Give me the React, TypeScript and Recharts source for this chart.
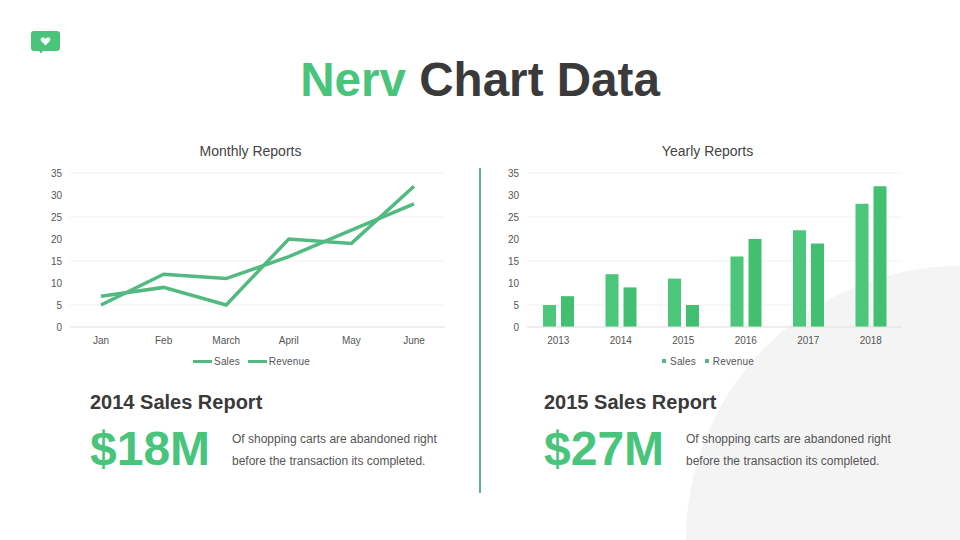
/**
 * Nerv chart data slide: monthly line chart, yearly bar chart, two report blurbs
 */

import React from 'react';
import { LineChart, Line, BarChart, Bar, XAxis, YAxis, CartesianGrid, Legend } from 'recharts';

const months = ['Jan', 'Feb', 'March', 'April', 'May', 'June'];
const monthlySales = [5, 12, 11, 16, 22, 28];
const monthlyRevenue = [7, 9, 5, 20, 19, 32];

const years = ['2013', '2014', '2015', '2016', '2017', '2018'];
const yearlySales = [5, 12, 11, 16, 22, 28];
const yearlyRevenue = [7, 9, 5, 20, 19, 32];

const yTicks = [0, 5, 10, 15, 20, 25, 30, 35];

const monthlyData = months.map((name, i) => ({ name, Sales: monthlySales[i], Revenue: monthlyRevenue[i] }));
const yearlyData = years.map((name, i) => ({ name, Sales: yearlySales[i], Revenue: yearlyRevenue[i] }));

const GREEN = '#48c47b';
const DARK = '#3a3a3a';
const FONT = '"Liberation Sans", Arial, sans-serif';

const tickStyle = { fontSize: 10, fill: '#555', fontFamily: FONT };
const chartMargin = { top: 13, right: 15, left: 40, bottom: 0 };

const LineLegend = ({ payload }: any) => (
  <div style={{ display: 'flex', justifyContent: 'center', height: 20, alignItems: 'center', paddingLeft: 18, fontSize: 10, letterSpacing: 0.15, color: '#555', fontFamily: FONT }}>
    {(payload || []).map((p: any, i: number) => (
      <span key={p.value} style={{ display: 'flex', alignItems: 'center', marginLeft: i ? 8 : 0 }}>
        <span style={{ width: 19, height: 3, background: '#52ba80', marginRight: 2 }} />
        {p.value}
      </span>
    ))}
  </div>
);

const BarLegend = ({ payload }: any) => (
  <div style={{ display: 'flex', justifyContent: 'center', height: 20, alignItems: 'center', paddingLeft: 17, fontSize: 10, letterSpacing: 0.15, color: '#555', fontFamily: FONT }}>
    {(payload || []).map((p: any, i: number) => (
      <span key={p.value} style={{ display: 'flex', alignItems: 'center', marginLeft: i ? 9 : 0 }}>
        <span style={{ width: 4, height: 4, background: '#5cb58a', marginRight: 4 }} />
        {p.value}
      </span>
    ))}
  </div>
);

const yAxis = (
  <YAxis
    domain={[0, 35]}
    ticks={yTicks}
    tick={tickStyle}
    tickLine={false}
    axisLine={false}
    tickMargin={2}
    width={30}
  />
);

const Report = ({ left, title, amount }: { left: number; title: string; amount: string }) => (
  <>
    <div style={{ position: 'absolute', left, top: 391, fontSize: 20, fontWeight: 700, color: DARK, whiteSpace: 'nowrap' }}>
      {title}
    </div>
    <div style={{ position: 'absolute', left, top: 421, fontSize: 48, lineHeight: '56px', fontWeight: 700, color: GREEN, whiteSpace: 'nowrap' }}>
      {amount}
    </div>
    <div style={{ position: 'absolute', left: left + 142, top: 428, fontSize: 12, lineHeight: '22px', color: '#555', whiteSpace: 'nowrap' }}>
      Of shopping carts are abandoned right
      <br />
      before the transaction its completed.
    </div>
  </>
);

export default function App() {
  return (
    <div style={{ position: 'fixed', left: 0, top: 0, width: 960, height: 540, overflow: 'hidden', background: '#fff', fontFamily: FONT }}>
      <div style={{ position: 'absolute', left: 686, top: 266, width: 548, height: 548, borderRadius: '50%', background: '#f4f4f4' }} />

      <svg style={{ position: 'absolute', left: 30, top: 30 }} width={32} height={25}>
        <path d="M4 1h23a3 3 0 0 1 3 3v14a3 3 0 0 1-3 3H13l-2 2.5L9 21H4a3 3 0 0 1-3-3V4a3 3 0 0 1 3-3z" fill={GREEN} />
        <path d="M15.5 15.5l-4.2-4.2a2.4 2.4 0 0 1 0-3.3 2.4 2.4 0 0 1 3.3 0l.9.9.9-.9a2.4 2.4 0 0 1 3.3 0 2.4 2.4 0 0 1 0 3.3z" fill="#fff" />
      </svg>

      <div style={{ position: 'absolute', left: 0, top: 53, width: 960, textAlign: 'center', fontSize: 47.6, lineHeight: '54px', fontWeight: 700, color: DARK }}>
        <span style={{ color: GREEN }}>Nerv</span> Chart Data
      </div>

      <div style={{ position: 'absolute', left: 0, top: 143, width: 501, textAlign: 'center', fontSize: 14, color: '#444' }}>Monthly Reports</div>
      <div style={{ position: 'absolute', left: 457, top: 143, width: 501, textAlign: 'center', fontSize: 14, color: '#444' }}>Yearly Reports</div>

      <div style={{ position: 'absolute', left: 0, top: 160 }}>
        <LineChart width={460} height={211} data={monthlyData} margin={chartMargin}>
          <CartesianGrid vertical={false} stroke="#f1f1f1" />
          <XAxis
            dataKey="name"
            tick={tickStyle}
            tickLine={false}
            axisLine={{ stroke: '#e2e2e2' }}
            tickMargin={4}
            height={24}
            interval={0}
            padding={{ left: 31, right: 31 }}
          />
          {yAxis}
          <Legend content={<LineLegend />} height={20} itemSorter={null} />
          <Line dataKey="Sales" stroke="#52ba80" strokeWidth={3.5} dot={false} isAnimationActive={false} />
          <Line dataKey="Revenue" stroke="#52ba80" strokeWidth={3.5} dot={false} isAnimationActive={false} />
        </LineChart>
      </div>

      <div style={{ position: 'absolute', left: 457, top: 160 }}>
        <BarChart width={460} height={211} data={yearlyData} margin={chartMargin} barSize={13} barGap={5}>
          <CartesianGrid vertical={false} stroke="#f1f1f1" />
          <XAxis
            dataKey="name"
            tick={tickStyle}
            tickLine={false}
            axisLine={{ stroke: '#e2e2e2' }}
            tickMargin={4}
            height={24}
            interval={0}
          />
          {yAxis}
          <Legend content={<BarLegend />} height={20} itemSorter={null} />
          <Bar dataKey="Sales" fill="#4bc67b" isAnimationActive={false} />
          <Bar dataKey="Revenue" fill="#42bf70" isAnimationActive={false} />
        </BarChart>
      </div>

      <div style={{ position: 'absolute', left: 479, top: 168, width: 1.5, height: 325, background: '#62b48a' }} />

      <Report left={90} title="2014 Sales Report" amount="$18M" />
      <Report left={544} title="2015 Sales Report" amount="$27M" />
    </div>
  );
}
